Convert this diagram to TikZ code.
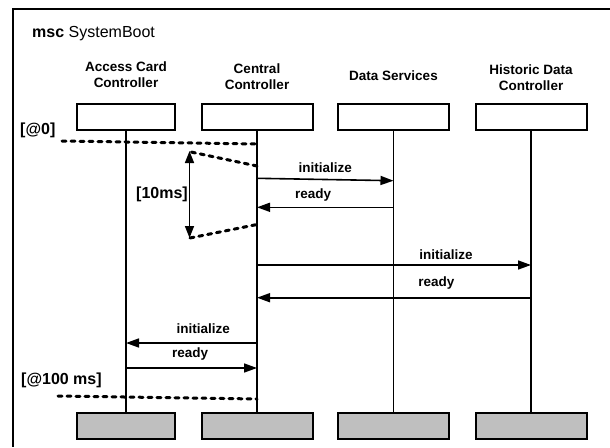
\documentclass[tikz,border=0pt]{standalone}
\usepackage{fontspec}
\setmainfont{Liberation Sans}
\usetikzlibrary{arrows.meta}
\begin{document}
\begin{tikzpicture}[x=1pt,y=-1pt,
  frameline/.style={line width=1.8pt},
  titletext/.style={font=\fontsize{16}{19}\selectfont, inner sep=0pt},
  headtext/.style={font=\fontsize{13.5}{16}\selectfont\bfseries, align=center, inner sep=0pt},
  instbox/.style={draw, line width=2pt, minimum height=26pt, inner sep=0pt},
  endbox/.style={instbox, fill=black!25},
  lifeline/.style={line width=1.4pt},
  msg/.style={line width=1.6pt, -{Triangle[length=13pt,width=9pt]}},
  msgtext/.style={font=\fontsize{13.5}{16}\selectfont\bfseries, anchor=base, inner sep=0pt},
  timetext/.style={font=\fontsize{16}{19}\selectfont\bfseries, anchor=base west, inner sep=0pt},
  timeline/.style={line width=3pt, line cap=round, dash pattern=on 4pt off 5pt},
  interval/.style={line width=1.6pt, {Triangle[length=12pt,width=9pt]}-{Triangle[length=12pt,width=9pt]}}
]
\useasboundingbox (0,0) rectangle (610,447);

% enclosing msc frame
\draw[frameline] (610,9) -- (13,9) -- (13,447);
\node[titletext, anchor=base west] (title) at (32,37) {\textbf{msc} SystemBoot};

% instance heads
\node[instbox, minimum width=98pt]  (acT) at (126,116.5) {};
\node[instbox, minimum width=111pt] (ccT) at (257,116.5) {};
\node[instbox, minimum width=111pt] (dsT) at (393.5,116.5) {};
\node[instbox, minimum width=111pt] (hdT) at (531,116.5) {};

% instance names
\node[headtext, anchor=south] (acN) at (126,88) {Access Card\\Controller};
\node[headtext, anchor=south] (ccN) at (257,90) {Central\\Controller};
\node[headtext, anchor=base]  (dsN) at (393.5,80) {Data Services};
\node[headtext, anchor=south] (hdN) at (531,91) {Historic Data\\Controller};

% instance ends
\node[endbox, minimum width=98pt]  (acB) at (126,426) {};
\node[endbox, minimum width=111pt] (ccB) at (257,426) {};
\node[endbox, minimum width=111pt] (dsB) at (393.5,426) {};
\node[endbox, minimum width=111pt] (hdB) at (531,426) {};

% lifelines
\draw[lifeline] (acT.south) -- (acB.north);
\draw[lifeline] (ccT.south) -- (ccB.north);
\draw[lifeline] (dsT.south) -- (dsB.north);
\draw[lifeline] (hdT.south) -- (hdB.north);

% message endpoints on the lifelines
\coordinate (cc1) at (257,178.3);  \coordinate (ds1) at (393.5,180.7);
\coordinate (ds2) at (393.5,207.3); \coordinate (cc2) at (257,207.3);
\coordinate (cc3) at (257,265);    \coordinate (hd3) at (531,265);
\coordinate (hd4) at (531,297.7);  \coordinate (cc4) at (257,297.7);
\coordinate (cc5) at (257,343);    \coordinate (ac5) at (126,343);
\coordinate (ac6) at (126,368);    \coordinate (cc6) at (257,368);

% messages
\draw[msg] (cc1) -- (ds1) node[msgtext, pos=0.5, yshift=7.5pt] (m1) {initialize};
\draw[msg] (ds2) -- (cc2) node[msgtext, pos=0.588, yshift=9pt] (m2) {ready};
\draw[msg] (cc3) -- (hd3) node[msgtext, pos=0.69, yshift=6pt] (m3) {initialize};
\draw[msg] (hd4) -- (cc4) node[msgtext, pos=0.345, yshift=11pt] (m4) {ready};
\draw[msg] (cc5) -- (ac5) node[msgtext, pos=0.41, yshift=10pt] (m5) {initialize};
\draw[msg] (ac6) -- (cc6) node[msgtext, pos=0.49, yshift=10.5pt] (m6) {ready};

% absolute time at start
\node[timetext] (t0) at (20,134.5) {[@0]};
\coordinate (t0a) at (62,141);
\coordinate (t0b) at (257,144);
\draw[timeline] (t0a) -- (t0b);

% relative timer of 10 ms
\coordinate (r1a) at (257,166);
\coordinate (r1b) at (191,152);
\coordinate (r2a) at (190,238);
\coordinate (r2b) at (257,224.5);
\coordinate (ia) at (189.5,151);
\coordinate (ib) at (189.5,238);
\draw[timeline] (r1a) -- (r1b);
\draw[timeline] (r2a) -- (r2b);
\draw[interval] (ia) -- (ib);
\node[timetext] (t10) at (136,198.5) {[10ms]};

% absolute time at end
\node[timetext] (t100) at (21,384.5) {[@100 ms]};
\coordinate (t1a) at (58,396);
\coordinate (t1b) at (257,399);
\draw[timeline] (t1a) -- (t1b);
\end{tikzpicture}
\end{document}
